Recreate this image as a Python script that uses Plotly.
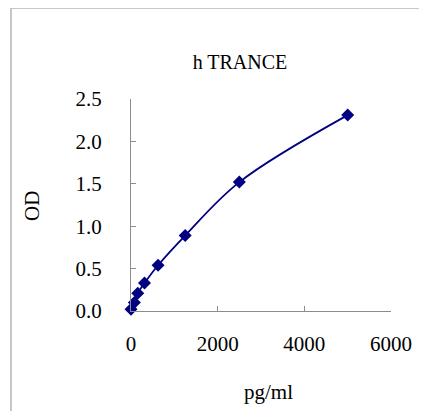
import plotly.graph_objects as go

conc = [0, 78, 156, 312, 625, 1250, 2500, 5000]
od = [0.02, 0.10, 0.21, 0.33, 0.54, 0.89, 1.52, 2.31]
x_ticks = [0, 2000, 4000, 6000]
y_ticks = [0.0, 0.5, 1.0, 1.5, 2.0, 2.5]

navy = "#000080"
axis_gray = "#8c8c8c"
font_family = "Liberation Serif"

fig = go.Figure()
fig.add_trace(go.Scatter(
    x=conc, y=od, mode="lines+markers",
    line=dict(color=navy, width=1.8, shape="spline", smoothing=1.0),
    marker=dict(symbol="diamond", size=10, color=navy),
    cliponaxis=False, showlegend=False,
))

# page has an 8px body margin; lay out in page pixels then offset
OFF = 8
W, H = 427 - 2 * OFF, 419 - 2 * OFF
L, T = 131 - OFF, 99 - OFF
pw, ph = 260, 212
R, B = W - L - pw, H - T - ph


def px_x(p):
    return (p - OFF - L) / pw


def px_y(p):
    return (H - B - (p - OFF)) / ph


fig.update_layout(
    width=W, height=H,
    margin=dict(l=L, r=R, t=T, b=B, autoexpand=False),
    paper_bgcolor="white", plot_bgcolor="white",
    font=dict(family=font_family, size=21, color="black"),
    title=dict(text="h TRANCE", x=(240 - OFF) / W, xanchor="center",
               y=1 - (62 - OFF) / H, yanchor="middle",
               font=dict(family=font_family, size=20, color="black")),
    xaxis=dict(range=[0, 6000], tickvals=x_ticks, ticks="inside", ticklen=5,
               tickcolor=axis_gray, showline=True, linecolor=axis_gray, linewidth=1,
               showgrid=False, zeroline=False, ticklabelstandoff=14, automargin=False),
    yaxis=dict(range=[0, 2.5], tickvals=y_ticks, tickformat=".1f", ticks="inside",
               ticklen=5, tickcolor=axis_gray, showline=True, linecolor=axis_gray,
               linewidth=1, showgrid=False, zeroline=False, ticklabelstandoff=24,
               automargin=False),
    annotations=[
        dict(text="pg/ml", xref="paper", yref="paper", x=px_x(268), y=px_y(392),
             xanchor="center", yanchor="middle", showarrow=False,
             font=dict(family=font_family, size=21, color="black")),
        dict(text="OD", xref="paper", yref="paper", x=px_x(32), y=px_y(206),
             xanchor="center", yanchor="middle", showarrow=False, textangle=-90,
             font=dict(family=font_family, size=21, color="black")),
    ],
    shapes=[
        dict(type="line", xref="paper", yref="paper", x0=px_x(11), x1=px_x(440),
             y0=px_y(8), y1=px_y(8), line=dict(color="#b4b4b4", width=1.5)),
        dict(type="line", xref="paper", yref="paper", x0=px_x(11), x1=px_x(11),
             y0=px_y(8), y1=px_y(440), line=dict(color="#b4b4b4", width=1.5)),
    ],
)

fig.write_html("out.html")
